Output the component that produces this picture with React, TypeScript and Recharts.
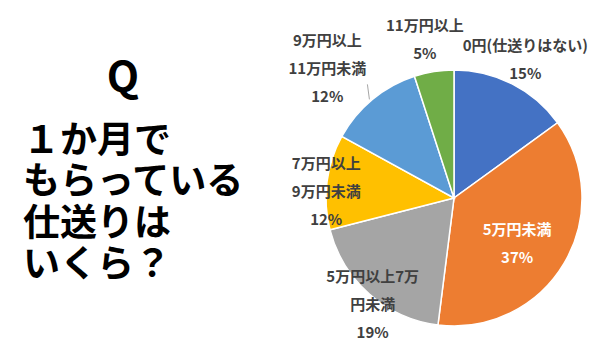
import { PieChart, Pie, Cell } from 'recharts';

const categories = ['0円(仕送りはない)', '5万円未満', '5万円以上7万円未満', '7万円以上9万円未満', '9万円以上11万円未満', '11万円以上'];
const shares = [15, 37, 19, 12, 12, 5];
const labelLines = [
  ['0円(仕送りはない)', '15%'],
  ['5万円未満', '37%'],
  ['5万円以上7万', '円未満', '19%'],
  ['7万円以上', '9万円未満', '12%'],
  ['9万円以上', '11万円未満', '12%'],
  ['11万円以上', '5%'],
];
const questionLines = ['１か月で', 'もらっている', '仕送りは', 'いくら？'];

const colors = ['#4472C4', '#ED7D31', '#A5A5A5', '#FFC000', '#5B9BD5', '#70AD47'];
// label placement: distance from centre and angle nudge (deg)
const labelRadius = [157, 77, 133, 128, 182, 163];
const labelNudge = [0, -4.3, 3.7, 3.6, 4.5, 1.3];

const RAD = Math.PI / 180;
const FONT = '"Noto Sans CJK JP", "Noto Sans", sans-serif';

const data = categories.map((name, i) => ({ name, value: shares[i] }));

function renderLabel(props: any) {
  const { cx, cy, midAngle, index } = props;
  const a = (midAngle + labelNudge[index]) * RAD;
  const r = labelRadius[index];
  const x = cx + r * Math.cos(-a);
  const y = cy + r * Math.sin(-a);
  const lines = labelLines[index];
  const gap = 28;
  const top = y - ((lines.length - 1) * gap) / 2;
  return (
    <text
      key={`lbl-${index}`}
      x={x}
      y={top}
      textAnchor="middle"
      dominantBaseline="central"
      fill={index === 1 ? '#ffffff' : '#404040'}
      fontSize={15}
      fontWeight={600}
      fontFamily={FONT}
    >
      {lines.map((t, k) => (
        <tspan key={k} x={x} y={top + k * gap} dominantBaseline="central">
          {t}
        </tspan>
      ))}
    </text>
  );
}

function renderLabelLine(props: any) {
  const { cx, cy, midAngle, outerRadius, index } = props;
  if (index !== 4) return <g key={`ll-${index}`} />;
  const a = midAngle * RAD;
  const x1 = cx + outerRadius * Math.cos(-a);
  const y1 = cy + outerRadius * Math.sin(-a);
  return <line key={`ll-${index}`} x1={x1 - 3} y1={y1} x2={x1 - 5} y2={y1 - 15} stroke="#A6A6A6" strokeWidth={1} />;
}

export default function App() {
  return (
    <div style={{ position: 'absolute', left: 0, top: 0, width: 600, height: 353, background: '#fff' }}>
      <svg width={280} height={353} style={{ position: 'absolute', left: 0, top: 0 }}>
        <text x={123} y={92} textAnchor="middle" fontSize={42} fontWeight={700} fontFamily={FONT} fill="#000">
          Q
        </text>
        {questionLines.map((t, i) => (
          <text key={i} x={23} y={137 + i * 41.3} dominantBaseline="central" fontSize={37} fontWeight={700} fontFamily={FONT} fill="#000">
            {t}
          </text>
        ))}
      </svg>
      <div style={{ position: 'absolute', left: 0, top: 0 }}>
        <PieChart width={600} height={353} margin={{ top: 0, right: 0, bottom: 0, left: 0 }}>
          <Pie
            data={data}
            dataKey="value"
            nameKey="name"
            cx={454}
            cy={198}
            outerRadius={128}
            startAngle={90}
            endAngle={-270}
            stroke="#ffffff"
            strokeWidth={1.5}
            label={renderLabel}
            labelLine={renderLabelLine}
            isAnimationActive={false}
          >
            {data.map((d, i) => (
              <Cell key={d.name} fill={colors[i]} />
            ))}
          </Pie>
        </PieChart>
      </div>
    </div>
  );
}
